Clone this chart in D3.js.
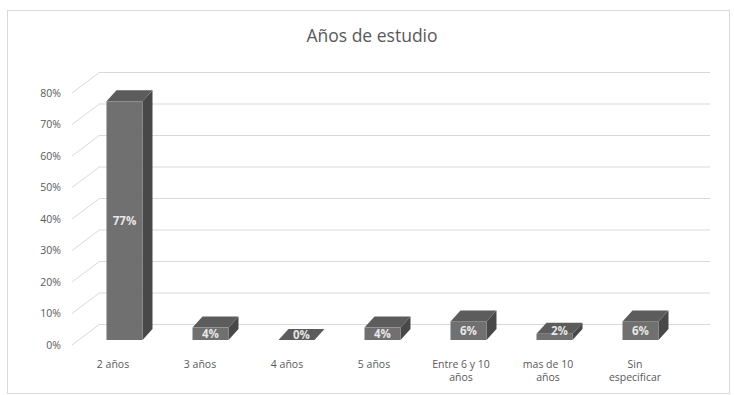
<!DOCTYPE html>
<html>
<head>
<meta charset="utf-8">
<script src="https://cdn.jsdelivr.net/npm/d3@7"></script>
<style>
  html, body { margin: 0; padding: 0; background: #fff; }
  svg { display: block; font-family: "Open Sans", "Noto Sans", sans-serif; }
</style>
</head>
<body>
<svg id="chart" width="734" height="395"></svg>
<script>
// Years of study distribution
const categories = ["2 años", "3 años", "4 años", "5 años", "Entre 6 y 10 años", "mas de 10 años", "Sin especificar"];
const categoryLines = [["2 años"], ["3 años"], ["4 años"], ["5 años"], ["Entre 6 y 10", "años"], ["mas de 10", "años"], ["Sin", "especificar"]];
const values = [0.77, 0.04, 0.00, 0.04, 0.06, 0.02, 0.06];
const valueLabels = ["77%", "4%", "0%", "4%", "6%", "2%", "6%"];
const yTicks = [0, 0.1, 0.2, 0.3, 0.4, 0.5, 0.6, 0.7, 0.8];
const title = "Años de estudio";

const svg = d3.select("#chart");

// chart frame
svg.append("rect")
  .attr("x", 7.5).attr("y", 10.5)
  .attr("width", 722).attr("height", 383)
  .attr("fill", "#fff").attr("stroke", "#d9d9d9").attr("stroke-width", 1);

svg.append("text")
  .attr("x", 372).attr("y", 42)
  .attr("text-anchor", "middle")
  .attr("font-size", 17.5)
  .attr("fill", "#595959")
  .text(title);

// oblique 3D geometry
const depth = { dx: 28, dy: -21 };          // full wall depth
const frontLeft = 72, backRight = 710;
const yAxis = d3.scaleLinear().domain([0, 0.8]).range([345, 93]);
const yBar = d3.scaleLinear().domain([0, 0.8]).range([340, 92]);
// category labels sit on the front edge; bars sit slightly deeper (narrower step)
const x = d3.scaleBand().domain(categories)
  .range([69.5, 69.5 + 87 * categories.length])
  .paddingInner(0.58).paddingOuter(0.29);
const xBar = d3.scaleBand().domain(categories)
  .range([81.5, 81.5 + 86 * categories.length])
  .paddingInner(0.58).paddingOuter(0.29);
const barDepth = { dx: 10, dy: -11 };

const grid = svg.append("g").attr("stroke", "#d9d9d9").attr("stroke-width", 1).attr("fill", "none");
// back wall gridlines
grid.selectAll("line.back").data(yTicks).join("line")
  .attr("class", "back")
  .attr("x1", frontLeft + depth.dx).attr("x2", backRight)
  .attr("y1", d => yAxis(d) + depth.dy + 0.5).attr("y2", d => yAxis(d) + depth.dy + 0.5);
// side wall lines
grid.selectAll("line.side").data(yTicks).join("line")
  .attr("class", "side")
  .attr("x1", frontLeft).attr("x2", frontLeft + depth.dx)
  .attr("y1", d => yAxis(d)).attr("y2", d => yAxis(d) + depth.dy);

// y tick labels
svg.append("g").selectAll("text").data(yTicks).join("text")
  .attr("x", 61).attr("y", d => yAxis(d))
  .attr("dy", "0.35em")
  .attr("text-anchor", "end")
  .attr("font-size", 10.5)
  .attr("fill", "#595959")
  .text(d => d3.format(".0%")(d));

// bars as oblique boxes
const bars = svg.append("g");
categories.forEach((c, i) => {
  const v = values[i];
  const cx = xBar(c) + xBar.bandwidth() / 2;
  const x0 = cx - 18, x1 = cx + 18;
  const yb = yBar(0), yt = yBar(v);
  const g = bars.append("g");
  // side face
  g.append("path")
    .attr("d", `M${x1},${yt}L${x1 + barDepth.dx},${yt + barDepth.dy}L${x1 + barDepth.dx},${yb + barDepth.dy}L${x1},${yb}Z`)
    .attr("fill", "#484848");
  // top face
  g.append("path")
    .attr("d", `M${x0},${yt}L${x1},${yt}L${x1 + barDepth.dx},${yt + barDepth.dy}L${x0 + barDepth.dx},${yt + barDepth.dy}Z`)
    .attr("fill", "#5c5c5c");
  // front face
  if (yb - yt > 0.5) {
    g.append("rect")
      .attr("x", x0).attr("y", yt)
      .attr("width", x1 - x0).attr("height", yb - yt)
      .attr("fill", "#707070");
  }
  // value label
  const tall = (yb - yt) > 8;
  g.append("text")
    .attr("x", cx + (tall ? 0 : barDepth.dx / 2))
    .attr("y", tall ? (yt + yb) / 2 : (yt + yb + barDepth.dy) / 2)
    .attr("dy", "0.35em")
    .attr("text-anchor", "middle")
    .attr("font-size", 11.5)
    .attr("font-weight", "bold")
    .attr("fill", "#ffffff")
    .attr("fill-opacity", 0.85)
    .text(valueLabels[i]);
});

// category labels
const cat = svg.append("g");
categories.forEach((c, i) => {
  const cx = x(c) + x.bandwidth() / 2;
  const t = cat.append("text")
    .attr("x", cx)
    .attr("y", 368)
    .attr("text-anchor", "middle")
    .attr("font-size", 10.5)
    .attr("fill", "#595959");
  categoryLines[i].forEach((line, j) => {
    t.append("tspan").attr("x", cx).attr("dy", j === 0 ? 0 : 13).text(line);
  });
});
</script>
</body>
</html>
